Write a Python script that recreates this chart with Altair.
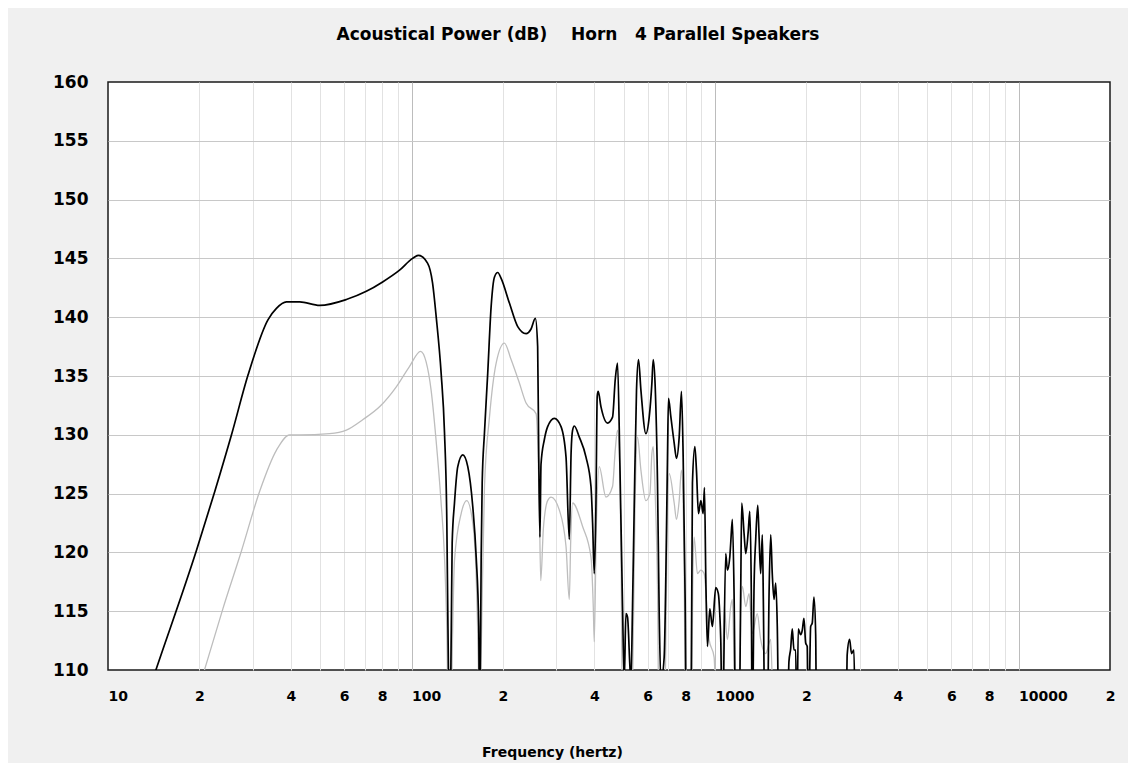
import altair as alt
import pandas as pd

# ---- data (frequency in Hz, level in dB) ----
black_freq = [13.5, 14.38, 19.58, 22.49, 25.52, 28.94, 33.68, 35.88, 38.71, 42.81,
              49.81, 60.97, 70.96, 80.3, 91.31, 100.8, 105.4, 112.9, 117.3, 120.6,
              125.2, 128.4, 130.7, 131.7, 133.6, 135.2, 136.1, 138.5, 142.0, 147.5,
              153.2, 159.1, 163.3, 166.5, 167.6, 169.6, 170.9, 173.9, 178.2, 182.9,
              187.5, 192.3, 197.3, 210.1, 223.8, 238.4, 247.6, 255.8, 260.3, 262.5,
              264.8, 267.0, 273.9, 280.8, 295.4, 310.8, 322.8, 330.9, 335.5, 339.3,
              343.7, 357.0, 375.6, 390.1, 394.9, 399.9, 405.1, 409.0, 412.0, 420.7,
              442.3, 459.4, 468.9, 477.1, 485.9, 495.6, 502.0, 508.5, 514.7, 528.1,
              534.6, 541.5, 551.0, 559.4, 569.7, 591.6, 606.7, 619.2, 625.4, 634.9,
              646.1, 654.5, 663.0, 679.7, 688.5, 697.0, 702.3, 715.2, 733.3, 746.2,
              761.6, 774.9, 785.0, 796.9, 804.9, 832.1, 842.2, 857.7, 868.2, 881.5,
              897.7, 913.4, 922.4, 932.2, 943.6, 960.9, 979.7, 1005, 1025, 1036,
              1044, 1057, 1084, 1098, 1118, 1126, 1140, 1155, 1170, 1199,
              1215, 1224, 1246, 1262, 1287, 1301, 1316, 1326, 1344, 1361,
              1382, 1395, 1413, 1431, 1442, 1460, 1486, 1505, 1525, 1543,
              1564, 1584, 1603, 1624, 1729, 1751, 1774, 1796, 1819, 1843,
              1860, 1879, 1914, 1938, 1962, 1988, 2012, 2030, 2065, 2090,
              2117, 2145, 2160, 2700, 2724, 2774, 2815, 2866, 2903, 3000]
black_db = [107.9, 110.0, 120.2, 125.2, 130.0, 135.1, 139.8, 140.75, 141.3, 141.3,
            141.0, 141.5, 142.2, 143.0, 144.0, 145.0, 145.25, 144.6, 142.9, 140.0,
            135.2, 130.2, 122.5, 114.5, 104.0, 113.5, 120.8, 124.2, 127.3, 128.3,
            127.3, 123.9, 119.6, 113.7, 104.0, 119.6, 125.9, 130.2, 135.2, 140.9,
            143.4, 143.8, 143.3, 141.2, 139.2, 138.6, 139.0, 139.9, 137.5, 128.0,
            121.3, 127.5, 129.6, 130.7, 131.4, 130.7, 128.1, 121.1, 128.5, 130.4,
            130.75, 129.8, 128.1, 125.6, 122.5, 118.2, 124.2, 133.3, 133.7, 132.4,
            131.0, 131.5, 134.7, 136.1, 127.3, 115.4, 109.0, 114.8, 114.5, 109.0,
            115.4, 123.9, 133.8, 136.4, 133.8, 130.1, 131.5, 134.4, 136.4, 134.1,
            125.9, 114.8, 109.0, 111.1, 118.2, 128.1, 133.1, 131.5, 129.3, 128.0,
            129.8, 133.7, 128.1, 116.0, 104.0, 104.0, 125.9, 129.0, 127.0, 123.3,
            124.4, 123.3, 125.5, 117.7, 112.0, 115.2, 113.7, 117.0, 116.5, 114.8,
            112.6, 104.0, 119.9, 118.5, 119.6, 120.8, 122.8, 116.5, 104.0, 104.0,
            117.1, 124.2, 121.6, 119.9, 121.9, 123.5, 116.8, 104.0, 117.1, 121.1,
            124.0, 121.6, 118.2, 121.5, 116.0, 104.0, 104.0, 116.0, 121.5, 118.2,
            116.0, 117.4, 113.7, 104.0, 104.0, 110.7, 111.8, 113.5, 111.7, 111.7,
            104.0, 113.5, 113.0, 113.4, 114.4, 112.3, 112.0, 104.0, 113.7, 114.0,
            116.2, 113.0, 104.0, 104.0, 111.3, 112.6, 111.4, 111.7, 104.0, 100.0]

gray_freq = [20.0, 20.9, 23.9, 27.5, 31.6, 35.9, 39.7, 42.8, 53.7, 61.0,
             69.2, 78.6, 89.2, 98.4, 107.1, 111.7, 116.0, 120.4, 125.0, 128.4,
             130.7, 132.5, 134.5, 136.5, 138.5, 145.7, 152.0, 159.1, 163.3, 166.0,
             167.4, 170.0, 173.9, 180.6, 190.0, 202.3, 212.8, 226.6, 238.4, 257.2,
             263.7, 266.5, 271.8, 280.8, 288.1, 306.8, 322.8, 330.9, 334.5, 339.3,
             366.1, 390.1, 396.9, 399.9, 406.1, 415.3, 437.0, 459.4, 468.9, 477.1,
             485.9, 490.7, 496.3, 530.0, 537.0, 545.0, 555.2, 569.7, 591.6, 609.9,
             619.2, 625.4, 634.9, 646.1, 654.5, 680.0, 690.0, 697.0, 706.2, 733.3,
             746.2, 761.6, 774.9, 790.6, 800.0, 835.0, 845.0, 852.9, 874.7, 897.7,
             920.1, 955.6, 992.5, 1018, 1050, 1071, 1098, 1126, 1140, 1170,
             1200, 1215, 1230, 1262, 1294, 1326, 1377, 1413, 1468, 1525,
             1564, 2000]
gray_db = [108.6, 110.2, 115.2, 120.1, 125.2, 128.7, 130.0, 130.0, 130.1, 130.4,
           131.3, 132.4, 134.1, 135.8, 137.1, 136.2, 133.8, 129.6, 124.4, 119.6,
           113.4, 104.0, 104.0, 113.0, 119.3, 123.3, 124.4, 122.5, 118.0, 110.5,
           104.0, 113.0, 125.6, 131.5, 136.1, 137.8, 136.4, 134.4, 132.7, 131.8,
           123.9, 117.6, 122.0, 124.4, 124.7, 123.6, 120.5, 116.0, 121.0, 124.2,
           122.2, 119.6, 115.4, 112.4, 122.0, 127.3, 124.7, 125.6, 128.7, 130.4,
           126.7, 118.0, 104.0, 104.0, 112.0, 124.0, 129.8, 127.0, 124.4, 125.0,
           128.4, 129.0, 125.0, 117.0, 104.0, 104.0, 115.0, 124.0, 126.7, 124.2,
           122.8, 124.4, 127.0, 119.0, 104.0, 104.0, 118.0, 121.3, 118.2, 118.5,
           118.2, 112.6, 111.1, 104.0, 104.0, 115.4, 112.6, 115.4, 116.0, 104.0,
           104.0, 114.8, 117.1, 115.4, 116.5, 113.1, 114.8, 112.6, 111.4, 112.6,
           104.0, 100.0]

y_ticks = [110, 115, 120, 125, 130, 135, 140, 145, 150, 155, 160]
x_grid_values = [10, 20, 30, 40, 50, 60, 70, 80, 90,
                 100, 200, 300, 400, 500, 600, 700, 800, 900,
                 1000, 2000, 3000, 4000, 5000, 6000, 7000, 8000, 9000,
                 10000, 20000]
x_label_values = [10, 20, 40, 60, 80, 100, 200, 400, 600, 800,
                  1000, 2000, 4000, 6000, 8000, 10000, 20000]
x_label_texts = ["10", "2", "4", "6", "8", "100", "2", "4", "6", "8",
                 "1000", "2", "4", "6", "8", "10000", "2"]
decade_values = [100, 1000, 10000]

title_text = "Acoustical Power (dB)\u00a0\u00a0\u00a0 Horn\u00a0\u00a0 4 Parallel Speakers"
x_title = "Frequency (hertz)"

# ---- build expressions from the arrays ----
label_expr = "''"
for v, t in reversed(list(zip(x_label_values, x_label_texts))):
    label_expr = f"datum.value == {v} ? '{t}' : ({label_expr})"

decade_test = " || ".join(f"datum.value == {v}" for v in decade_values)
edge_x_test = f"datum.value == {x_grid_values[0]} || datum.value == {x_grid_values[-1]}"
edge_y_test = f"datum.value == {y_ticks[0]} || datum.value == {y_ticks[-1]}"

FONT = "DejaVu Sans"

x_axis = alt.Axis(
    values=x_grid_values,
    labelExpr=label_expr,
    labelFont=FONT, labelFontSize=14, labelFontWeight="bold", labelColor="black",
    labelAlign={"condition": {"test": decade_test + " || datum.value == 10", "value": "left"},
                "value": "center"},
    labelBaseline="top", labelPadding=19, labelOverlap=False, labelFlush=False,
    ticks=False, domain=False,
    grid=True,
    gridColor={"condition": [{"test": edge_x_test, "value": "transparent"},
                             {"test": decade_test, "value": "#bcbcbc"}],
               "value": "#e2e2e2"},
    gridWidth=1,
    title=x_title, titleFont=FONT, titleFontSize=14, titleFontWeight="bold",
    titleColor="black", titleX=444, titleY=82, titleAlign="center",
    titleBaseline="middle", titleAnchor="start",
)

y_axis = alt.Axis(
    values=y_ticks,
    labelFont=FONT, labelFontSize=17, labelFontWeight="bold", labelColor="black",
    labelPadding=20, labelFlush=False, labelOverlap=False,
    ticks=False, domain=False,
    grid=True,
    gridColor={"condition": {"test": edge_y_test, "value": "transparent"},
               "value": "#c8c8c8"},
    gridWidth=1,
    title=None,
)

x_enc = alt.X("freq:Q", scale=alt.Scale(type="log", domain=[10, 20000], nice=False),
              axis=x_axis)
y_enc = alt.Y("db:Q", scale=alt.Scale(domain=[110, 160], nice=False, zero=False),
              axis=y_axis)

df_black = pd.DataFrame({"freq": black_freq, "db": black_db})
df_gray = pd.DataFrame({"freq": gray_freq, "db": gray_db})

gray_line = alt.Chart(df_gray).mark_line(
    color="#bdbdbd", strokeWidth=1.3, clip=True, interpolate="monotone"
).encode(x=x_enc, y=y_enc)

black_line = alt.Chart(df_black).mark_line(
    color="black", strokeWidth=1.7, clip=True, interpolate="monotone"
).encode(x=x_enc, y=y_enc)

chart = alt.layer(gray_line, black_line).properties(
    width=1002, height=588,
    autosize=alt.AutoSizeParams(type="none"),
    padding={"left": 100, "top": 74, "right": 18, "bottom": 93},
    background="#f0f0f0",
    title=alt.TitleParams(text=title_text, font=FONT, fontSize=17, fontWeight="bold",
                          color="black", anchor="middle", dx=-31, offset=29),
).configure_view(fill="white", stroke="#1a1a1a", strokeWidth=1.5)

chart.save("out.html", embed_options={"renderer": "svg", "actions": False})
